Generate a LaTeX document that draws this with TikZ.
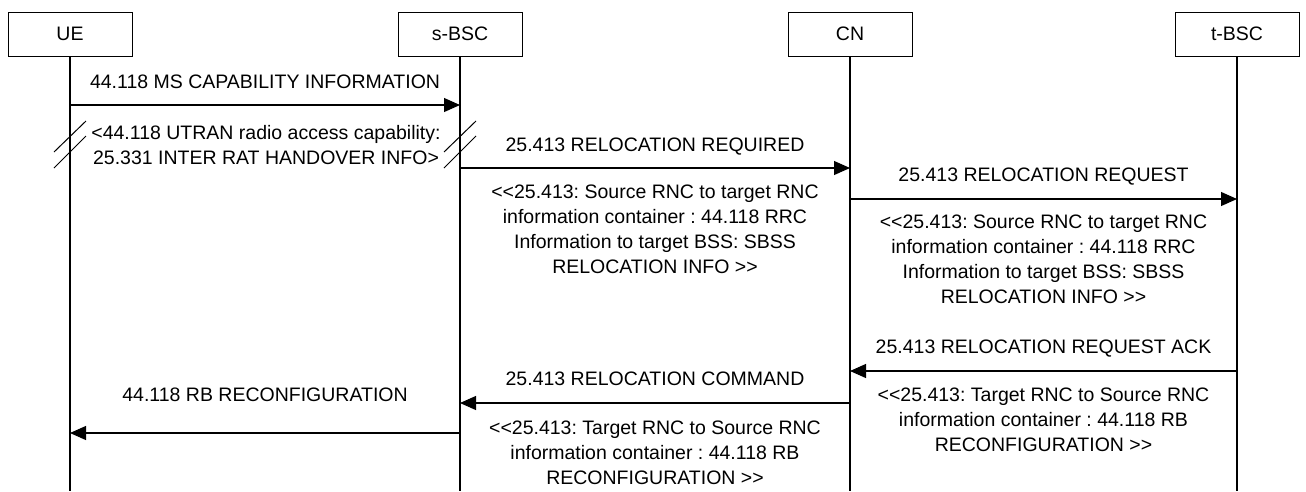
\documentclass[tikz,border=0pt]{standalone}
\usepackage{fontspec}
\setmainfont{Liberation Sans}
\frenchspacing
\usetikzlibrary{arrows.meta}
\newcommand\dblLt{<\kern0pt<}
\newcommand\dblGt{>\kern0pt>}
\begin{document}
\begin{tikzpicture}[x=1pt,y=-1pt,
  txt/.style={font=\fontsize{19.5}{25}\selectfont},
  ent/.style={txt,draw,line width=1pt,minimum width=124pt,minimum height=44pt,inner sep=0pt},
  life/.style={line width=1.1pt},
  msg/.style={line width=1.1pt,-{Triangle[length=16pt,width=14pt]}},
  lbl/.style={txt,align=center,inner sep=0pt,anchor=north},
  slash/.style={line width=1pt}]
\useasboundingbox (0,0) rectangle (1306,491);
% entities
\node[ent] (ue)  at (70,34)   {UE};
\node[ent] (sb)  at (460,34)  {s-BSC};
\node[ent] (cn)  at (850,34)  {CN};
\node[ent] (tb)  at (1237,34) {t-BSC};
% lifelines
\coordinate (ueE) at (70,491);
\coordinate (sbE) at (460,491);
\coordinate (cnE) at (850,491);
\coordinate (tbE) at (1237,491);
\draw[life] (ue.south) -- (ueE);
\draw[life] (sb.south) -- (sbE);
\draw[life] (cn.south) -- (cnE);
\draw[life] (tb.south) -- (tbE);
% message endpoints
\coordinate (m1a) at (70,105);   \coordinate (m1b) at (460,105);
\coordinate (m2a) at (460,168);  \coordinate (m2b) at (850,168);
\coordinate (m3a) at (850,199);  \coordinate (m3b) at (1237,199);
\coordinate (m4a) at (1237,371); \coordinate (m4b) at (850,371);
\coordinate (m5a) at (850,403);  \coordinate (m5b) at (460,403);
\coordinate (m6a) at (460,433);  \coordinate (m6b) at (70,433);
\draw[msg] (m1a) -- (m1b);
\draw[msg] (m2a) -- (m2b);
\draw[msg] (m3a) -- (m3b);
\draw[msg] (m4a) -- (m4b);
\draw[msg] (m5a) -- (m5b);
\draw[msg] (m6a) -- (m6b);
% slashes
\draw[slash] (54,152) -- (86,121);
\draw[slash] (54,168) -- (86,136);
\draw[slash] (444,152) -- (476,121);
\draw[slash] (444,168) -- (476,136);
% labels
\node[lbl] (l1) at (265,75) {44.118 MS CAPABILITY INFORMATION};
\node[lbl] (l1b) at (266,125) {<44.118 UTRAN radio access capability:\\25.331 INTER RAT HANDOVER INFO>};
\node[lbl] (l2) at (655,138) {25.413 RELOCATION REQUIRED};
\node[lbl] (l2b) at (655,185) {\dblLt25.413: Source RNC to target RNC\\information container : 44.118 RRC\\Information to target BSS: SBSS\\RELOCATION INFO \dblGt};
\node[lbl] (l3) at (1043.5,168) {25.413 RELOCATION REQUEST};
\node[lbl] (l3b) at (1043.5,215) {\dblLt25.413: Source RNC to target RNC\\information container : 44.118 RRC\\Information to target BSS: SBSS\\RELOCATION INFO \dblGt};
\node[lbl] (l4) at (1043.5,340) {25.413 RELOCATION REQUEST ACK};
\node[lbl] (l4b) at (1043.5,388) {\dblLt25.413: Target RNC to Source RNC\\information container : 44.118 RB\\RECONFIGURATION \dblGt};
\node[lbl] (l5) at (655,372) {25.413 RELOCATION COMMAND};
\node[lbl] (l5b) at (655,421) {\dblLt25.413: Target RNC to Source RNC\\information container : 44.118 RB\\RECONFIGURATION \dblGt};
\node[lbl] (l6) at (265,388) {44.118 RB RECONFIGURATION};
\end{tikzpicture}
\end{document}
